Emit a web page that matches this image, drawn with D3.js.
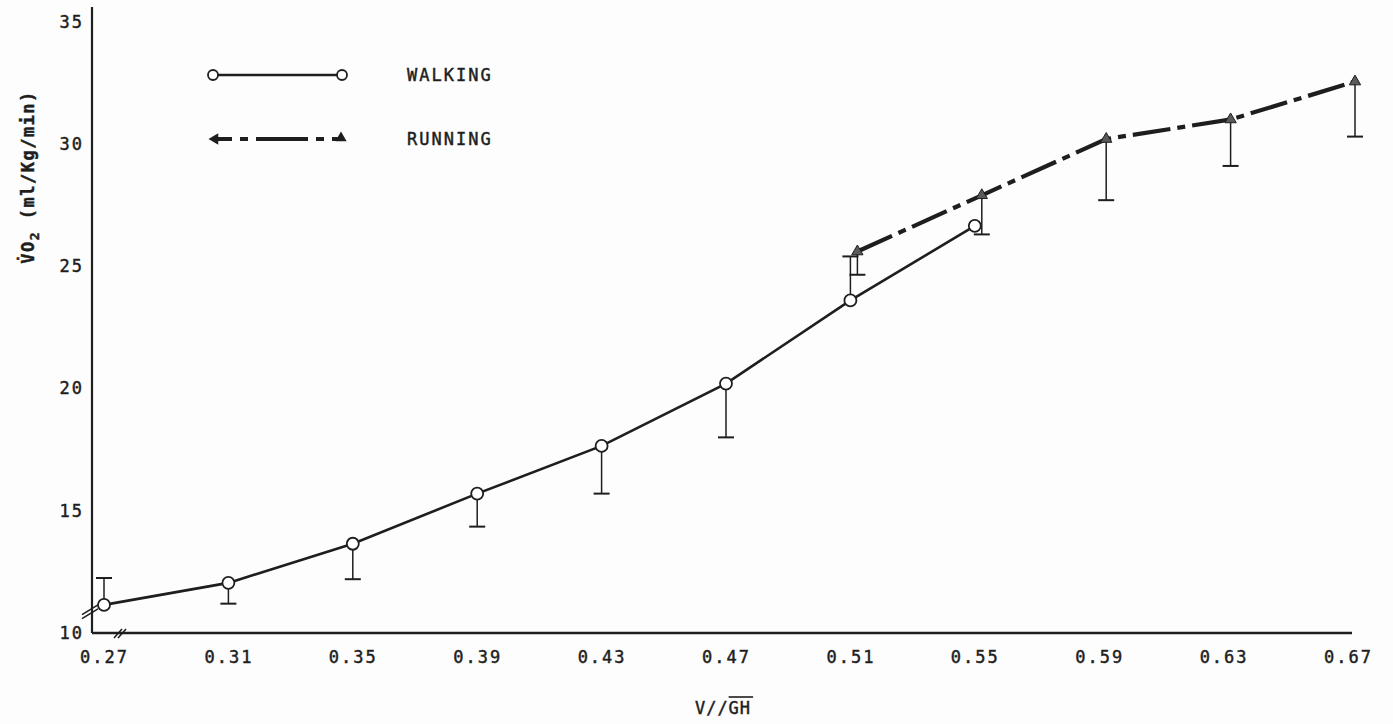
<!DOCTYPE html>
<html>
<head>
<meta charset="utf-8">
<script src="https://cdn.jsdelivr.net/npm/d3@7"></script>
<style>
  html, body { margin: 0; padding: 0; background: #fdfdfd; }
  svg { display: block; }
  text { font-family: "DejaVu Sans Mono", "Liberation Mono", monospace; fill: #1e1e1e; stroke: #1e1e1e; stroke-width: 0.45px; }
</style>
</head>
<body>
<svg id="chart" width="1393" height="724"></svg>
<script>
// ---- data ----
const xTickValues = [0.27, 0.31, 0.35, 0.39, 0.43, 0.47, 0.51, 0.55, 0.59, 0.63, 0.67];
const xTickLabels = ["0.27", "0.31", "0.35", "0.39", "0.43", "0.47", "0.51", "0.55", "0.59", "0.63", "0.67"];
const yTickValues = [10, 15, 20, 25, 30, 35];
const yTickLabels = ["10", "15", "20", "25", "30", "35"];

const walkingSpeed = [0.27, 0.31, 0.35, 0.39, 0.43, 0.47, 0.51, 0.55];
const walkingVO2   = [11.15, 12.05, 13.65, 15.7, 17.65, 20.2, 23.6, 26.65];
const walkingErrEnd = [12.25, 11.2, 12.2, 14.35, 15.7, 18.0, 25.4, null];

const runningSpeed = [0.51, 0.55, 0.59, 0.63, 0.67];
const runningVO2   = [25.6, 27.9, 30.2, 31.0, 32.55];
const runningErrEnd = [24.65, 26.3, 27.7, 29.1, 30.3];

const legendLabels = ["WALKING", "RUNNING"];

// ---- layout ----
const svg = d3.select("#chart");
const ink = "#1e1e1e";
const axisX = 92;
const x = d3.scaleLinear().domain([0.27, 0.67]).range([104, 1348]);
const y = d3.scaleLinear().domain([10, 35.6]).range([633, 7]);
const runOffset = 7;

// axes lines
svg.append("line").attr("x1", axisX).attr("x2", axisX)
  .attr("y1", y(10)).attr("y2", y(35.6))
  .attr("stroke", ink).attr("stroke-width", 2.2);
svg.append("line").attr("x1", axisX).attr("x2", x(0.67) + 4)
  .attr("y1", y(10)).attr("y2", y(10))
  .attr("stroke", ink).attr("stroke-width", 2.6);

// y tick labels
const yAxis = d3.axisLeft(y).tickValues(yTickValues)
  .tickFormat((d, i) => yTickLabels[i]).tickSize(0).tickPadding(8);
const gy = svg.append("g").attr("transform", `translate(${axisX},0)`).call(yAxis);
gy.select(".domain").remove();
gy.selectAll("text").style("font-family", '"DejaVu Sans Mono", monospace')
  .style("font-size", "17px").style("letter-spacing", "2px").attr("fill", ink);

// x tick labels
const xAxis = d3.axisBottom(x).tickValues(xTickValues)
  .tickFormat((d, i) => xTickLabels[i]).tickSize(0).tickPadding(18);
const gx = svg.append("g").attr("transform", `translate(0,${y(10)})`).call(xAxis);
gx.select(".domain").remove();
gx.selectAll("text").style("font-family", '"DejaVu Sans Mono", monospace')
  .style("font-size", "17px").style("letter-spacing", "2px").attr("fill", ink);

// axis break marks
const brk = svg.append("g").attr("stroke", ink).attr("stroke-width", 1.6).attr("fill", "none");
[0, 4].forEach(o => {
  brk.append("line").attr("x1", axisX - 10).attr("y1", y(10.75) + o)
    .attr("x2", axisX + 6).attr("y2", y(11.15) + o);
  brk.append("line").attr("x1", x(0.27) + 10 + o).attr("y1", y(10) + 5)
    .attr("x2", x(0.27) + 18 + o).attr("y2", y(10) - 4);
});

const walkData = walkingSpeed.map((s, i) => ({ s, v: walkingVO2[i], e: walkingErrEnd[i] }));
const runData = runningSpeed.map((s, i) => ({ s, v: runningVO2[i], e: runningErrEnd[i] }));

function errorBars(data, dx) {
  const g = svg.append("g").attr("stroke", ink).attr("stroke-width", 1.5);
  data.filter(d => d.e !== null).forEach(d => {
    const cx = x(d.s) + dx;
    g.append("line").attr("x1", cx).attr("x2", cx).attr("y1", y(d.v)).attr("y2", y(d.e));
    g.append("line").attr("x1", cx - 8).attr("x2", cx + 8).attr("y1", y(d.e)).attr("y2", y(d.e))
      .attr("stroke-width", 2);
  });
}
errorBars(walkData, 0);
errorBars(runData, runOffset);

// walking line
const walkLine = d3.line().x(d => x(d.s)).y(d => y(d.v));
svg.append("path").datum(walkData).attr("d", walkLine)
  .attr("fill", "none").attr("stroke", ink).attr("stroke-width", 2.6);

// running line
const runLine = d3.line().x(d => x(d.s) + runOffset).y(d => y(d.v));
svg.append("path").datum(runData).attr("d", runLine)
  .attr("fill", "none").attr("stroke", ink).attr("stroke-width", 4.2)
  .attr("stroke-dasharray", "38,7,8,7");

// markers
svg.append("g").selectAll("circle").data(walkData).join("circle")
  .attr("cx", d => x(d.s)).attr("cy", d => y(d.v)).attr("r", 6)
  .attr("fill", "#fff").attr("stroke", ink).attr("stroke-width", 1.8);

const tri = d3.symbol().type(d3.symbolTriangle).size(55);
svg.append("g").selectAll("path").data(runData).join("path")
  .attr("d", tri)
  .attr("transform", d => `translate(${x(d.s) + runOffset},${y(d.v)})`)
  .attr("fill", "#5a5a5a").attr("stroke", ink).attr("stroke-width", 1);

// legend
const lg = svg.append("g");
const lw = { x1: 213, x2: 342, y: 75 };
lg.append("line").attr("x1", lw.x1).attr("x2", lw.x2).attr("y1", lw.y).attr("y2", lw.y)
  .attr("stroke", ink).attr("stroke-width", 2.6);
[lw.x1, lw.x2].forEach(cx => lg.append("circle").attr("cx", cx).attr("cy", lw.y).attr("r", 5)
  .attr("fill", "#fff").attr("stroke", ink).attr("stroke-width", 1.8));
const lr = { x1: 212, x2: 343, y: 139 };
lg.append("line").attr("x1", lr.x1 + 4).attr("x2", lr.x2 - 4).attr("y1", lr.y).attr("y2", lr.y)
  .attr("stroke", ink).attr("stroke-width", 4.2).attr("stroke-dasharray", "16,8,8,8,52,8,8,8");
lg.append("path").attr("d", tri).attr("transform", `translate(${lr.x1 + 3},${lr.y}) rotate(-90)`)
  .attr("fill", ink);
lg.append("path").attr("d", tri).attr("transform", `translate(${lr.x2 - 2},${lr.y - 1})`)
  .attr("fill", ink);
lg.selectAll("text.leg").data(legendLabels).join("text").attr("class", "leg")
  .attr("x", 407).attr("y", (d, i) => i === 0 ? lw.y : lr.y)
  .attr("dy", "0.35em").style("font-size", "17px").style("letter-spacing", "2px")
  .text(d => d);

// y-axis title
const yt = svg.append("text")
  .attr("transform", "translate(28,177) rotate(-90)")
  .attr("text-anchor", "middle").attr("dy", "0.35em")
  .style("font-size", "17px").style("letter-spacing", "1.5px").style("font-weight", "bold");
yt.append("tspan").text("V\u0307O");
yt.append("tspan").attr("dy", "5").style("font-size", "13px").text("2");
yt.append("tspan").attr("dy", "-5").text(" (ml/Kg/min)");

// x-axis title
const xt = svg.append("text").attr("x", 723).attr("y", 708)
  .attr("text-anchor", "middle").attr("dy", "0.35em")
  .style("font-size", "17px").style("letter-spacing", "1px")
  .text("V//GH");
const xtNode = xt.node();
const sx = xtNode.getStartPositionOfChar(3).x;
const ex = xtNode.getEndPositionOfChar(4).x;
svg.append("line").attr("x1", sx).attr("x2", ex + 2).attr("y1", 697).attr("y2", 697)
  .attr("stroke", ink).attr("stroke-width", 1.6);
</script>
</body>
</html>
